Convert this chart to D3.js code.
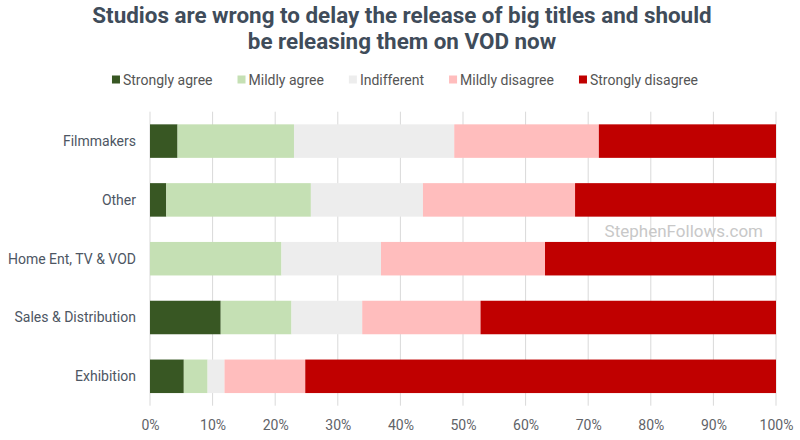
<!DOCTYPE html>
<html>
<head>
<meta charset="utf-8">
<script src="https://cdn.jsdelivr.net/npm/d3@7"></script>
<style>
  html, body { margin: 0; padding: 0; background: #fff; }
  svg { display: block; font-family: Roboto, "Noto Sans", sans-serif; }
</style>
</head>
<body>
<svg id="chart" width="800" height="440"></svg>
<script>
const titleLines = ["Studios are wrong to delay the release of big titles and should", "be releasing them on VOD now"];
const categories = ["Filmmakers", "Other", "Home Ent, TV & VOD", "Sales & Distribution", "Exhibition"];
const seriesNames = ["Strongly agree", "Mildly agree", "Indifferent", "Mildly disagree", "Strongly disagree"];
const stronglyAgree   = [4.4, 2.6, 0.0, 11.3, 5.4];
const mildlyAgree     = [18.6, 23.1, 21.0, 11.3, 3.8];
const indifferent     = [25.6, 17.9, 15.9, 11.3, 2.7];
const mildlyDisagree  = [23.1, 24.3, 26.2, 18.9, 12.9];
const stronglyDisagree= [28.3, 32.1, 36.9, 47.2, 75.2];
const tickValues = [0, 10, 20, 30, 40, 50, 60, 70, 80, 90, 100];
const colors = ["#385723", "#c5e0b4", "#ededed", "#ffbdbd", "#c00000"];
const watermark = "StephenFollows.com";

const seriesValues = [stronglyAgree, mildlyAgree, indifferent, mildlyDisagree, stronglyDisagree];
const rows = categories.map((c, i) => {
  const r = { category: c };
  seriesNames.forEach((s, j) => r[s] = seriesValues[j][i]);
  return r;
});
const stacked = d3.stack().keys(seriesNames)(rows);

const svg = d3.select("#chart");
const x = d3.scaleLinear().domain([0, 100]).range([150, 776]);
const y = d3.scaleBand().domain(categories).range([111.7, 405.7]).paddingInner(0.43).paddingOuter(0.215);
const color = d3.scaleOrdinal().domain(seriesNames).range(colors);

// Title
const title = svg.append("g");
const tLines = title.selectAll("text").data(titleLines).join("text")
  .attr("x", 402).attr("y", (d, i) => 22.7 + i * 26.6)
  .attr("text-anchor", "middle")
  .attr("font-size", 22).attr("font-weight", 700)
  .attr("fill", "#3f4c5a")
  .text(d => d);
const natural0 = tLines.nodes()[0].getComputedTextLength();
const sx = 619.4 / natural0;
tLines.each(function () {
  const w = this.getComputedTextLength();
  d3.select(this).attr("textLength", w * sx).attr("lengthAdjust", "spacingAndGlyphs");
});

// Legend
const legend = svg.append("g");
const items = legend.selectAll("g").data(seriesNames).join("g");
items.append("rect").attr("width", 8).attr("height", 8).attr("y", 75.5).attr("fill", d => color(d));
items.append("text").attr("x", 11).attr("y", 84.5).attr("font-size", 14).attr("fill", "#555").text(d => d);
let widths = items.nodes().map(n => d3.select(n).select("text").node().getComputedTextLength() + 11);
const gap = 25;
const total = d3.sum(widths) + gap * (widths.length - 1);
let cx = 405 - total / 2;
items.each(function (d, i) {
  d3.select(this).attr("transform", `translate(${cx},0)`);
  cx += widths[i] + gap;
});

// Gridlines
svg.append("g").selectAll("line").data(tickValues).join("line")
  .attr("x1", d => x(d)).attr("x2", d => x(d))
  .attr("y1", 111.7).attr("y2", 405.7)
  .attr("stroke", "#d9d9d9").attr("stroke-width", 1);

// Watermark
svg.append("text").attr("x", 763).attr("y", 236.5).attr("text-anchor", "end")
  .attr("font-size", 17).attr("fill", "#c8c8c8").text(watermark);

// Bars
svg.append("g").selectAll("g").data(stacked).join("g")
  .attr("fill", d => color(d.key))
  .selectAll("rect").data(d => d).join("rect")
  .attr("x", d => x(d[0]))
  .attr("width", d => x(d[1]) - x(d[0]))
  .attr("y", d => y(d.data.category))
  .attr("height", y.bandwidth());

// Y axis labels
const yAxis = d3.axisLeft(y).tickSize(0).tickPadding(0);
const yg = svg.append("g").attr("transform", "translate(136,0)").call(yAxis);
yg.select(".domain").remove();
yg.selectAll("text").attr("font-size", 14).attr("fill", "#4d5663").attr("font-family", "Roboto, sans-serif").attr("dy", "0.35em");

// X axis labels
const xAxis = d3.axisBottom(x).tickValues(tickValues).tickFormat(d => d + "%").tickSize(0).tickPadding(0);
const xg = svg.append("g").attr("transform", "translate(0,419)").call(xAxis);
xg.select(".domain").remove();
xg.selectAll("text").attr("font-size", 14).attr("fill", "#5f6368").attr("font-family", "Roboto, sans-serif").attr("dy", "0.8em");
</script>
</body>
</html>
